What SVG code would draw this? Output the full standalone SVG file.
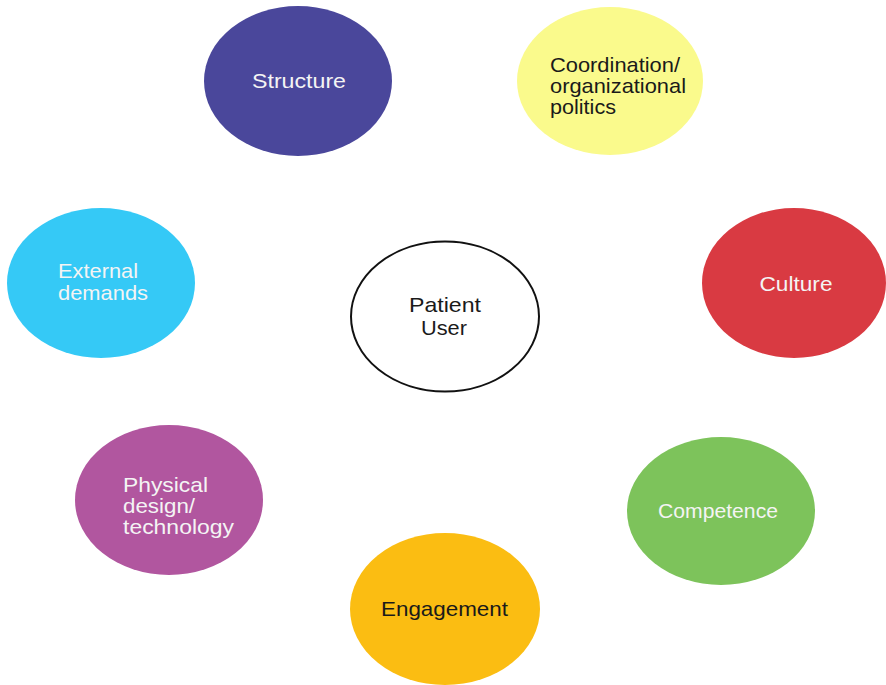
<svg xmlns="http://www.w3.org/2000/svg" width="886" height="685" viewBox="0 0 886 685">
  <style>
    text { font-family: "Liberation Sans", Arial, sans-serif; font-size: 21px; }
    .light { fill: #f4f4f4; }
    .dark { fill: #1a1a1a; }
    .mid { text-anchor: middle; }
  </style>
  <rect width="886" height="685" fill="#ffffff"/>

  <!-- outer factors arranged around the centre -->
  <g id="structure">
    <ellipse cx="298" cy="81" rx="94" ry="75" fill="#4a479b"/>
    <text class="light mid" x="299" y="88" textLength="94" lengthAdjust="spacingAndGlyphs">Structure</text>
  </g>

  <g id="coordination">
    <ellipse cx="610" cy="81" rx="93" ry="74" fill="#fafa8c"/>
    <text class="dark" x="550" y="72" textLength="130" lengthAdjust="spacingAndGlyphs">Coordination/</text>
    <text class="dark" x="550" y="93" textLength="136" lengthAdjust="spacingAndGlyphs">organizational</text>
    <text class="dark" x="550" y="114" textLength="66" lengthAdjust="spacingAndGlyphs">politics</text>
  </g>

  <g id="external-demands">
    <ellipse cx="101" cy="283" rx="94" ry="75" fill="#35c9f6"/>
    <text class="light" x="58" y="278" textLength="80" lengthAdjust="spacingAndGlyphs">External</text>
    <text class="light" x="58" y="300" textLength="90" lengthAdjust="spacingAndGlyphs">demands</text>
  </g>

  <g id="patient-user">
    <ellipse cx="445" cy="316.5" rx="94" ry="75" fill="#ffffff" stroke="#111111" stroke-width="2"/>
    <text class="dark mid" x="445" y="312" textLength="72" lengthAdjust="spacingAndGlyphs">Patient</text>
    <text class="dark mid" x="444" y="335" textLength="46" lengthAdjust="spacingAndGlyphs">User</text>
  </g>

  <g id="culture">
    <ellipse cx="794" cy="283" rx="92" ry="75" fill="#d93a42"/>
    <text class="light mid" x="796" y="291" textLength="73" lengthAdjust="spacingAndGlyphs">Culture</text>
  </g>

  <g id="physical-design">
    <ellipse cx="169" cy="500" rx="94" ry="75" fill="#b1569f"/>
    <text class="light" x="123" y="492" textLength="85" lengthAdjust="spacingAndGlyphs">Physical</text>
    <text class="light" x="123" y="513" textLength="72" lengthAdjust="spacingAndGlyphs">design/</text>
    <text class="light" x="123" y="534" textLength="111" lengthAdjust="spacingAndGlyphs">technology</text>
  </g>

  <g id="competence">
    <ellipse cx="721" cy="511" rx="94" ry="74" fill="#7dc35b"/>
    <text class="light mid" x="718" y="518" textLength="120" lengthAdjust="spacingAndGlyphs">Competence</text>
  </g>

  <g id="engagement">
    <ellipse cx="445" cy="609" rx="95" ry="76" fill="#fbbd12"/>
    <text class="dark mid" x="444.5" y="616" textLength="127" lengthAdjust="spacingAndGlyphs">Engagement</text>
  </g>

  <!-- no connecting lines between the factors -->
  <g id="connectors"/>
</svg>
